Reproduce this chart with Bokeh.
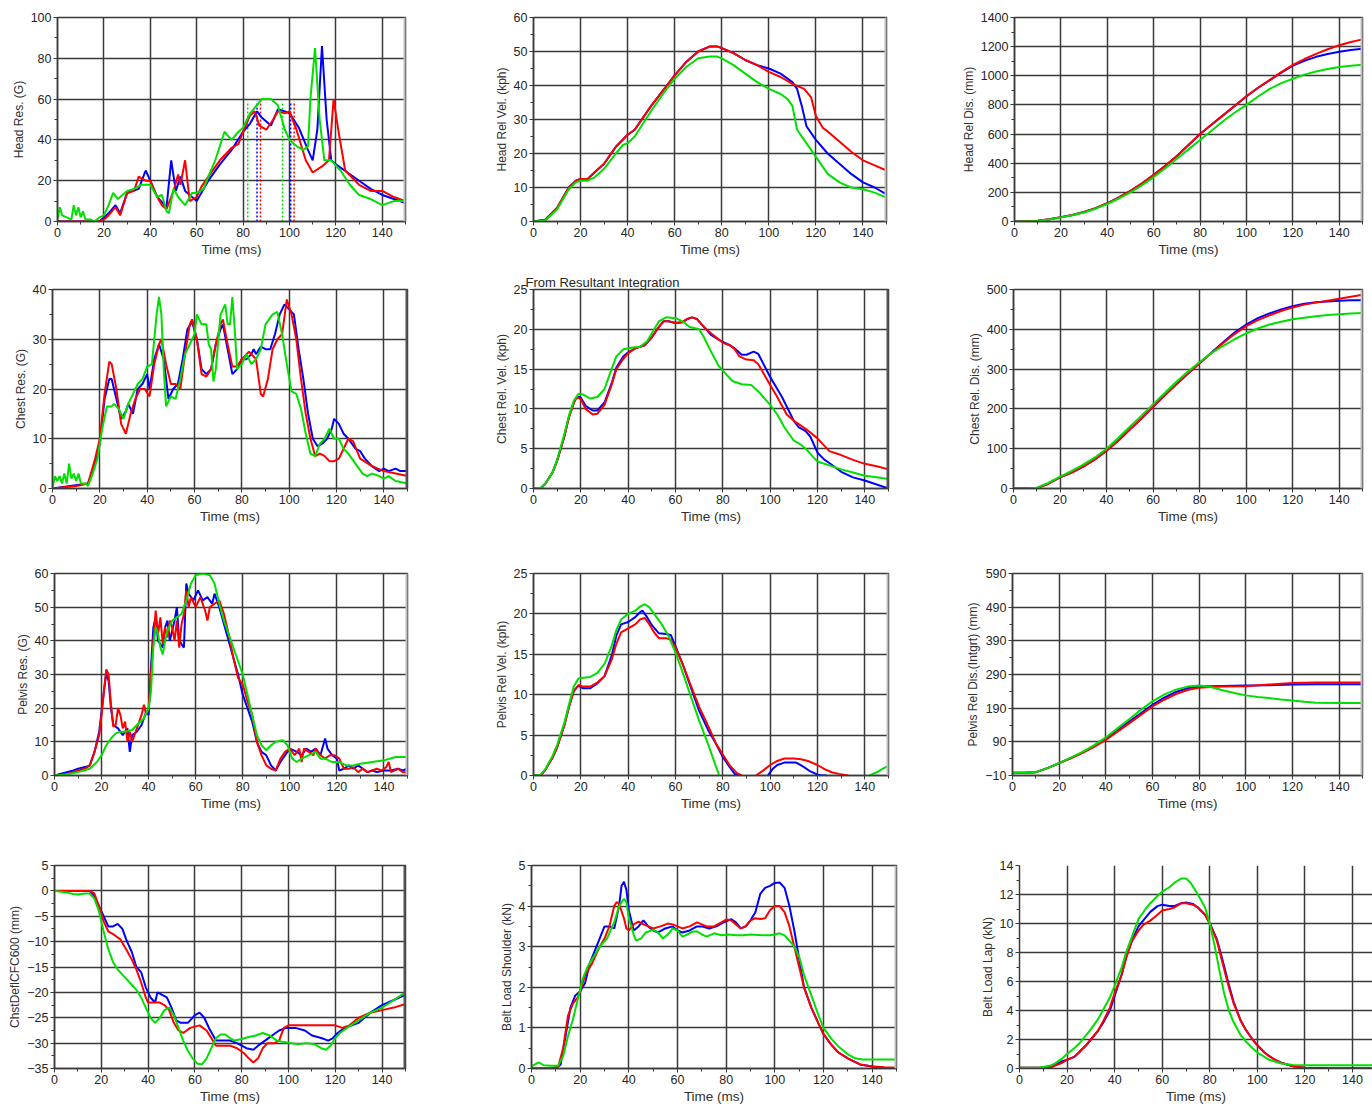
from bokeh.plotting import figure
from bokeh.layouts import row, column
from bokeh.models import FixedTicker, Span, Range1d, Title
from bokeh.embed import file_html
from bokeh.resources import INLINE

NAN = float("nan")

# ---------------- ticks ----------------
TIME_TICKS = [0, 20, 40, 60, 80, 100, 120, 140]
TIME_MINOR = [10, 30, 50, 70, 90, 110, 130, 150]
X_LABEL = "Time (ms)"

# ---------------- data: (time ms, value) samples ----------------
# Head resultant acceleration (G)
head_res_blue = [(0,0),(18,0),(20,2),(22,4),(25,8),(27,4),(30,14),(35,16),(38,25),(40,20),(43,12),(47,7),(49,30),(51,15),(53,22),(55,15),(58,12),(60,10),(65,20),(70,28),(75,35),(80,44),(83,48),(86,54),(88,51),(92,47),(95,55),(98,54),(100,53),(104,46),(108,35),(110,30),(112,45),(114,86),(116,50),(118,30),(120,28),(125,24),(130,20),(135,16),(140,13),(145,11),(150,9)]
head_res_red = [(0,0),(18,0),(20,1),(22,3),(25,7),(27,3),(30,14),(33,15),(35,22),(38,20),(40,20),(43,12),(45,8),(47,6),(50,15),(52,23),(53,18),(55,30),(56,20),(57,10),(60,12),(62,17),(65,22),(70,30),(75,36),(78,38),(80,44),(83,52),(85,54),(87,47),(90,45),(93,50),(95,54),(98,53),(100,54),(103,45),(107,30),(110,24),(114,27),(117,30),(119,60),(121,45),(124,25),(130,18),(135,15),(140,15),(145,12),(150,10)]
head_res_green = [(0,1),(1,7),(2,3),(4,2),(6,1),(7,8),(8,3),(9,7),(10,2),(11,5),(12,1),(14,1),(16,0),(18,2),(20,3),(22,8),(24,14),(26,11),(28,13),(30,15),(33,16),(36,18),(40,18),(43,12),(45,13),(47,5),(48,4),(50,16),(52,12),(55,8),(58,14),(60,14),(63,16),(65,22),(68,30),(70,37),(72,44),(75,40),(78,44),(80,46),(83,53),(86,57),(88,60),(92,60),(95,57),(98,45),(100,40),(103,37),(106,35),(108,37),(109,60),(111,85),(113,50),(115,30),(118,30),(122,25),(126,18),(130,13),(135,11),(140,8),(145,10),(150,10)]
# HIC window start / end (ms) and marker height (G)
hic_start = {"blue": 86, "red": 87.5, "green": 82}
hic_end = {"blue": 100.5, "red": 102, "green": 97}
hic_marker_top = 59

# Head relative velocity (kph)
head_vel_blue = [(0,0),(5,0.5),(10,4),(15,10),(18,12),(20,12.5),(23,12.5),(26,14.5),(30,17),(35,22),(40,25.5),(43,27),(50,34),(55,38.5),(60,43),(65,47),(70,50),(75,51.5),(78,51.5),(80,51),(85,49.5),(90,47.5),(95,46),(100,45),(105,43.5),(110,41),(112,39),(114,34),(116,28),(120,24),(125,20),(130,17),(135,14),(140,11.5),(145,10),(150,8)]
head_vel_red = [(0,0),(5,0.5),(10,4),(15,10),(18,12),(20,12.5),(23,12.5),(26,14.5),(30,17),(35,22),(40,25.5),(43,27),(50,34),(55,38.5),(60,43),(65,47),(70,50),(75,51.5),(78,51.5),(80,51),(85,49.5),(90,47.5),(95,46),(100,44),(105,42.5),(110,40.5),(115,39),(118,36.5),(120,31),(123,27.5),(125,26.5),(130,23.5),(135,20.5),(140,18),(145,16.5),(150,15)]
head_vel_green = [(0,0),(5,0.3),(10,3.5),(15,9.5),(18,11.5),(20,12),(23,12),(26,13),(30,15.5),(35,20),(38,22.5),(40,23),(43,25),(50,32.5),(55,37.5),(60,42),(65,45.5),(70,48),(75,48.5),(78,48.5),(80,48),(85,46),(90,43.5),(95,41),(100,39),(105,37.5),(108,36),(110,34),(112,27),(115,24),(120,19),(125,14),(130,11.5),(135,10),(140,9.5),(145,8.5),(150,7)]

# Head relative displacement (mm)
head_dis_blue = [(0,0),(5,1),(10,5),(15,15),(20,30),(25,45),(30,65),(35,92),(40,125),(45,165),(50,210),(55,262),(60,320),(65,383),(70,450),(75,525),(80,600),(85,665),(90,730),(95,795),(100,860),(105,918),(110,970),(115,1022),(120,1070),(125,1103),(130,1130),(135,1150),(140,1165),(145,1177),(150,1185)]
head_dis_red = [(0,0),(5,1),(10,5),(15,15),(20,30),(25,45),(30,65),(35,92),(40,125),(45,165),(50,210),(55,262),(60,320),(65,383),(70,450),(75,525),(80,600),(85,665),(90,730),(95,795),(100,860),(105,918),(110,970),(115,1025),(120,1075),(125,1115),(130,1150),(135,1182),(140,1210),(145,1232),(150,1250)]
head_dis_green = [(0,0),(5,0.5),(10,3),(15,13),(20,28),(25,43),(30,62),(35,88),(40,120),(45,158),(50,200),(55,250),(60,305),(65,365),(70,430),(75,495),(80,560),(85,625),(90,690),(95,748),(100,800),(105,858),(110,910),(115,950),(120,980),(125,1008),(130,1030),(135,1047),(140,1060),(145,1069),(150,1075)]

# Chest resultant acceleration (G)
chest_res_blue = [(0,0),(15,1),(18,5),(20,9),(22,18),(24,22),(25,22),(27,18),(29,14),(31,15.5),(32,17),(34,15),(36,20),(38,21),(40,23),(41,20),(43,26),(45,29),(47,26),(49,18),(51,20),(53,21),(55,26),(57,32),(59,33.5),(61,30),(63,24),(65,23),(67,24),(69,29),(71,32),(72,33),(74,28),(76,23),(78,24),(80,26),(82,26),(84,27),(85,28),(86,27),(88,28.5),(90,28),(92,28),(94,31),(96,35),(98,37),(100,36),(102,35),(104,28),(106,22),(108,15),(110,10),(112,8.5),(114,9),(116,10),(118,12),(119,14),(121,13),(123,11),(125,10),(128,8),(130,7.5),(132,6),(135,4.5),(138,3.5),(140,4),(142,3.5),(145,4),(147,3.5),(150,3.5)]
chest_res_red = [(0,0),(10,0.5),(15,1),(18,6),(20,10),(22,19),(24,25.5),(25,25),(27,20),(29,13),(31,11),(33,15),(35,18),(37,20),(39,20),(41,18.5),(43,25),(45,29),(46,30),(48,25),(50,21),(52,21),(54,20),(56,27),(58,33),(59,34),(61,30),(63,23),(65,22.5),(67,24),(69,29),(71,33),(72,34),(74,29),(76,24.5),(78,24.5),(80,26),(83,27.5),(86,26),(88,19),(89,18.5),(91,22),(93,28),(95,30),(97,31),(99,38),(101,35),(103,30),(105,22),(107,15),(109,10),(111,6.5),(113,7),(115,6.5),(117,5.5),(119,5.5),(121,6),(123,8),(125,10),(127,9.5),(130,6),(135,4.5),(140,3.5),(145,3),(150,2.5)]
chest_res_green = [(0,0),(1,2.5),(2,1.5),(3,2.5),(4,1),(5,3),(6,1),(7,5),(8,2),(9,3),(10,1.5),(11,3),(12,1),(14,1),(15,0.5),(17,3),(19,6),(21,12),(23,16.5),(25,16.5),(26,17),(28,16),(30,14),(32,17),(34,19),(36,21),(38,22),(40,24.5),(42,25),(44,35),(45,38.5),(46,35),(47,24),(48,16.5),(50,18.5),(52,18),(54,22),(56,27),(58,29),(60,31),(61,35),(63,33),(65,33),(66,29),(67,28),(68,21.5),(69,24),(71,35),(73,37),(74,33),(75,33),(76,38.5),(77,32),(78,24),(80,25),(82,27),(84,25),(86,26),(88,28),(90,33),(93,35),(95,35.5),(97,31),(99,25),(101,19.5),(103,19),(105,16),(107,11),(109,7),(111,6.5),(113,9),(115,10),(117,12),(119,10),(121,10),(123,8),(125,7),(128,5),(131,3),(133,2.5),(135,3),(138,2.5),(140,2),(142,2.5),(145,1.5),(150,1)]

# Chest relative velocity (kph)
chest_vel_blue = [(0,0),(3,0),(5,0.6),(8,2),(10,3.5),(13,6.5),(15,9),(17,10.8),(18,11.4),(19,11.5),(20,11.4),(22,10.4),(25,9.8),(27,9.8),(30,10.8),(33,13.2),(35,15.2),(38,16.6),(40,17.1),(43,17.6),(47,18),(50,19),(53,20.3),(55,21),(57,21),(60,20.8),(63,20.9),(65,21.3),(67,21.5),(69,21.3),(72,20.3),(75,19.3),(80,18.4),(83,18),(85,17.6),(88,16.8),(90,16.8),(93,17.2),(95,16.9),(100,14),(105,11.5),(110,8.5),(112,7.7),(115,7.2),(117,6.5),(120,4.5),(123,3.6),(125,3.2),(130,2.1),(135,1.4),(140,1),(145,0.5),(150,0)]
chest_vel_red = [(0,0),(3,0),(5,0.6),(8,2),(10,3.5),(13,6.5),(15,9),(17,10.7),(18,11.3),(19,11.4),(20,11.2),(22,10),(25,9.3),(27,9.4),(30,10.5),(33,13),(35,15),(38,16.3),(40,17),(43,17.6),(47,18),(50,19),(53,20.3),(55,21),(57,21),(60,20.8),(63,20.9),(65,21.3),(67,21.5),(69,21.3),(72,20.3),(75,19.5),(80,18.3),(83,18),(85,17.5),(87,16.6),(90,16.2),(93,16.1),(95,15.6),(100,13),(103,11.5),(107,9.3),(110,8.5),(115,7.5),(120,6.3),(125,4.7),(130,4.2),(135,3.6),(140,3.1),(145,2.8),(150,2.4)]
chest_vel_green = [(0,0),(3,0.1),(5,0.6),(8,2),(10,3.6),(13,6.8),(15,9.2),(17,11),(19,11.9),(21,11.8),(24,11.3),(27,11.5),(30,12.5),(33,15),(35,16.6),(38,17.5),(42,17.7),(45,17.8),(48,18.5),(50,19.5),(53,21),(56,21.5),(60,21.4),(63,21),(66,20.3),(70,20),(72,19),(75,17.2),(78,15.5),(80,14.8),(84,13.5),(88,13.1),(92,13),(95,12.2),(100,10.5),(103,9.3),(106,7.7),(110,6),(113,5.5),(115,5),(118,4),(120,3.4),(125,2.9),(130,2.4),(135,2),(140,1.6),(145,1.4),(150,1.2)]

# Chest relative displacement (mm)
chest_dis_blue = [(0,0),(5,0),(10,1),(15,12),(20,28),(25,40),(30,55),(35,73),(40,95),(45,120),(50,148),(55,176),(60,205),(65,234),(70,262),(75,289),(80,315),(85,341),(90,367),(95,392),(100,412),(105,428),(110,440),(115,450),(120,458),(125,464),(130,468),(135,470),(140,472),(145,473),(150,473)]
chest_dis_red = [(0,0),(5,0),(10,1),(15,12),(20,28),(25,40),(30,55),(35,73),(40,95),(45,120),(50,148),(55,176),(60,205),(65,234),(70,262),(75,289),(80,315),(85,340),(90,365),(95,388),(100,408),(105,423),(110,435),(115,446),(120,455),(125,462),(130,467),(135,472),(140,477),(145,482),(150,487)]
chest_dis_green = [(0,0),(5,0),(10,2),(15,14),(20,30),(25,44),(30,60),(35,78),(40,100),(45,127),(50,155),(55,183),(60,212),(65,240),(70,268),(75,294),(80,318),(85,340),(90,358),(95,375),(100,390),(105,402),(110,412),(115,419),(120,425),(125,429),(130,433),(135,436),(140,438),(145,440),(150,441)]

# Pelvis resultant acceleration (G)
pelvis_res_blue = [(0,0),(8,1.5),(10,2),(13,2.5),(15,3),(17,7),(19,13),(21,25),(22,30.5),(23,28),(24,20),(25,15),(27,14),(29,12),(31,14),(32,7),(33,12),(35,13),(37,15),(39,19),(40,18),(41,32),(42,44),(43,47),(44,40),(46,38),(47,44),(48,46),(49,40),(51,46),(52,50),(53,40),(55,38),(56,57),(57,54),(59,52),(61,55),(63,52),(65,53),(67,51),(68,54),(70,50),(72,45),(74,40),(76,35),(78,30),(80,24),(82,20),(84,16),(86,10),(88,7),(90,6),(92,3),(94,1.5),(96,4),(98,6),(100,8),(103,7),(105,6),(107,8),(109,7),(111,8),(113,6),(115,11),(116,8),(118,6),(120,5),(121,1.5),(123,2),(125,3),(127,2),(129,3),(131,2),(133,1),(135,1.5),(137,1),(140,1.5),(143,1.5),(146,2),(148,1.5),(150,2)]
pelvis_res_red = [(0,0),(5,0.3),(8,1),(10,1.5),(13,2),(15,3),(17,7),(19,12),(20,18),(21,25),(22,31.5),(23,30),(24,21),(25,14.5),(26,15),(27,20),(28,18),(29,14),(30,16),(31,10),(32,13),(33,10),(34,12),(35,14),(37,18),(38,21),(39,18),(40,20),(41,30),(42,40),(43,49),(44,42),(45,47),(46,39),(47,44),(48,41),(49,46),(50,44),(51,40),(52,46),(53,38),(54,45),(55,48),(56,55),(57,50),(58,53),(60,50),(62,53),(64,49),(65,46),(66,50),(68,51),(70,52),(72,48),(74,42),(76,35),(78,29),(80,27),(82,22),(84,18),(86,10),(88,6),(90,3),(92,2),(94,1.5),(96,5),(98,7),(100,8),(102,6),(104,8),(105,4),(106,8),(108,7),(110,6),(111,8),(113,6),(115,5),(117,6),(119,6),(121,5),(123,2),(125,2),(127,2.5),(129,1),(131,2),(133,1),(135,1.5),(137,2),(139,1.5),(141,2.5),(142,4),(143,1),(146,2),(148,1),(150,1)]
pelvis_res_green = [(0,0),(5,0.3),(10,1),(15,2),(18,4),(20,6),(22,9),(24,11),(26,12.5),(28,13),(30,13),(33,13.5),(35,15),(38,17),(40,20),(41,25),(42,38),(43,44),(44,42),(45,38),(46,36),(47,40),(48,43),(50,46),(52,47),(54,48),(56,52),(58,57),(60,59.5),(63,60),(66,59.5),(68,57),(70,51),(72,46),(74,42),(76,38),(78,34),(80,30),(82,24),(84,18),(86,12),(88,9),(90,7.5),(92,9),(94,10),(97,10.5),(99,9),(101,5),(103,4),(105,5),(108,6),(111,7),(113,5),(115,5),(118,4),(121,4),(124,3),(127,3),(130,3.5),(135,4),(140,4.5),(145,5.5),(150,5.5)]

# Pelvis relative velocity (kph); gaps where the trace leaves the plotted range
pelvis_vel_blue = [(0,0),(3,0),(5,0.7),(8,2.2),(10,3.5),(13,6.2),(15,8.5),(17,10.5),(19,11.1),(21,10.8),(24,10.8),(27,11.4),(30,12.3),(33,14.8),(35,17.3),(37,18.7),(40,19),(43,19.6),(45,20.2),(46,20.4),(48,19.6),(50,18.6),(53,17.6),(56,17.5),(58,17.4),(60,16),(63,13.8),(66,11.3),(70,8),(74,5.5),(77,4),(80,2.3),(83,1),(85,0.2),(87,0),(93,NAN),(99,0),(101,0.8),(103,1.3),(106,1.6),(111,1.6),(114,1.1),(117,0.5),(120,0.1),(122,0),(124,0)]
pelvis_vel_red = [(0,0),(3,0),(5,0.7),(8,2.2),(10,3.5),(13,6.2),(15,8.5),(17,10.4),(19,11.2),(21,11),(24,11),(27,11.5),(30,12.3),(33,14.3),(35,16.3),(37,17.7),(40,18.2),(43,18.7),(45,19.3),(47,19.5),(49,18.7),(51,17.7),(53,17),(56,17),(58,16.8),(60,15.8),(63,13.8),(66,11.5),(70,8.5),(74,6),(77,4),(80,2.6),(83,1.2),(86,0.3),(88,0),(91,NAN),(94,0),(97,0.6),(100,1.3),(103,1.8),(106,2.1),(110,2.1),(113,2),(116,1.8),(120,1.3),(123,0.8),(126,0.4),(129,0.2),(133,0)]
pelvis_vel_green = [(0,0),(3,0.1),(5,0.8),(8,2.4),(10,3.8),(13,6.5),(15,8.8),(17,11),(19,12),(21,12.1),(24,12.2),(27,12.7),(30,13.8),(33,16),(35,18),(37,19.3),(40,20),(43,20.4),(45,20.9),(47,21.2),(49,20.8),(51,20),(54,18.8),(57,17.3),(60,15.2),(63,12.8),(66,10.2),(70,6.8),(74,3.7),(77,1.2),(78.5,0),(110,NAN),(142,0),(145,0.4),(148,0.9),(150,1.2)]

# Pelvis relative displacement, integrated (mm)
pelvis_dis_blue = [(0,-2),(5,-1.5),(10,0),(15,12),(20,27),(25,42),(30,58),(35,77),(40,100),(45,125),(50,150),(55,175),(60,200),(65,221),(70,238),(75,249),(80,254),(85,255),(90,256),(100,257),(110,258),(120,260),(130,261),(150,261)]
pelvis_dis_red = [(0,-2),(5,-1.5),(10,0),(15,12),(20,27),(25,41),(30,57),(35,75),(40,96),(45,120),(50,145),(55,170),(60,195),(65,215),(70,232),(75,244),(80,251),(85,253),(90,254),(100,255),(110,260),(120,265),(130,266),(150,266)]
pelvis_dis_green = [(0,-2),(5,-1.5),(10,0),(15,12),(20,27),(25,43),(30,60),(35,80),(40,103),(45,130),(50,157),(55,185),(60,210),(65,230),(70,245),(75,254),(80,257),(85,253),(90,243),(95,235),(100,228),(105,223),(110,220),(115,216),(120,213),(125,209),(130,206),(140,205),(150,205)]

# Chest deflection CFC600 (mm)
chest_defl_blue = [(0,0),(15,0),(17,-1),(19,-3),(21,-5),(23,-7),(25,-7),(27,-6.5),(29,-7.5),(31,-10),(33,-12),(35,-15),(37,-16),(39,-19),(41,-21),(43,-22),(44,-20),(46,-20.5),(48,-21),(50,-23),(52,-25.5),(54,-26),(57,-26),(60,-24.5),(62,-24),(64,-25),(66,-27),(69,-29.5),(72,-29.5),(75,-29.5),(78,-30),(82,-31),(85,-31.3),(87,-30.5),(90,-29.5),(93,-28.5),(96,-27.5),(99,-27),(103,-27),(107,-27.5),(110,-28.5),(114,-29),(117,-29.5),(119,-29),(121,-28),(124,-27),(127,-26.5),(130,-26),(135,-24),(140,-22.5),(145,-21.5),(150,-20.5)]
chest_defl_red = [(0,0),(10,0),(15,0),(17,-0.5),(19,-3),(21,-6),(23,-8),(25,-8.5),(28,-9.5),(30,-11),(33,-13.5),(35,-15.5),(37,-18),(39,-21),(40,-22),(43,-22),(45,-22),(47,-22.5),(49,-23.5),(51,-26),(53,-27.5),(55,-28),(58,-27),(62,-26.5),(65,-27.5),(67,-29),(69,-30.5),(72,-30.5),(75,-30.5),(78,-31),(81,-32),(83,-33),(85,-33.8),(87,-33),(89,-31),(91,-30),(94,-30),(96,-29.5),(98,-27),(100,-26.5),(105,-26.5),(110,-26.5),(115,-26.5),(120,-26.5),(123,-27),(126,-26.5),(130,-25),(135,-24),(140,-23.5),(145,-23),(150,-22.3)]
chest_defl_green = [(0,0),(5,-0.3),(8,-0.6),(10,-0.7),(13,-0.5),(15,-0.5),(17,-1.5),(19,-4),(21,-8),(23,-11.5),(25,-14),(27,-15.5),(29,-16.5),(31,-17.5),(33,-18.5),(35,-19.5),(37,-21),(39,-23),(41,-25),(43,-26),(45,-25),(47,-23.5),(49,-23),(51,-24.5),(53,-27),(55,-29.5),(57,-31.5),(59,-33),(61,-34),(63,-34.2),(65,-33),(67,-31),(69,-29),(71,-28.3),(73,-28.3),(75,-29),(77,-29.5),(80,-29.2),(83,-28.8),(86,-28.5),(89,-28),(92,-28.5),(95,-29.5),(98,-29.8),(101,-30),(104,-30.2),(108,-30),(111,-30.2),(114,-31),(116,-31.3),(118,-30.5),(120,-29),(122,-28),(125,-27),(130,-25.5),(135,-24),(140,-23),(145,-21.5),(150,-20)]

# Shoulder belt load (kN)
belt_sh_blue = [(0,0),(10,0),(12,0.1),(14,0.8),(16,1.5),(18,1.8),(20,1.9),(22,2.1),(24,2.6),(26,2.9),(28,3.2),(30,3.5),(32,3.5),(34,3.45),(36,4.0),(37,4.5),(38,4.6),(39,4.4),(40,3.9),(42,3.4),(44,3.5),(46,3.65),(48,3.5),(50,3.4),(52,3.35),(55,3.45),(58,3.5),(60,3.4),(62,3.35),(65,3.4),(68,3.5),(70,3.5),(73,3.45),(76,3.5),(79,3.6),(82,3.68),(84,3.6),(86,3.45),(88,3.5),(90,3.65),(92,3.85),(94,4.3),(96,4.45),(98,4.5),(100,4.57),(102,4.58),(104,4.45),(106,4.0),(108,3.4),(110,2.7),(112,2.0),(115,1.5),(118,1.1),(120,0.85),(123,0.6),(126,0.4),(130,0.25),(135,0.1),(140,0.05),(145,0.02),(150,0)]
belt_sh_red = [(0,0),(8,0),(11,0.05),(13,0.5),(15,1.3),(17,1.6),(19,1.75),(20,1.9),(22,2.3),(25,2.6),(28,3),(30,3.2),(32,3.5),(34,4),(35,4.1),(36,4.05),(38,3.7),(39,3.45),(40,3.4),(42,3.55),(44,3.62),(46,3.55),(48,3.5),(50,3.45),(53,3.5),(56,3.57),(58,3.55),(60,3.5),(62,3.45),(65,3.5),(68,3.6),(70,3.55),(72,3.5),(75,3.5),(78,3.6),(80,3.67),(82,3.65),(84,3.55),(86,3.45),(88,3.5),(90,3.65),(92,3.7),(94,3.68),(96,3.7),(98,3.9),(100,4.0),(102,4.0),(104,3.85),(106,3.5),(108,3),(110,2.5),(112,2),(115,1.5),(118,1.1),(120,0.85),(123,0.6),(126,0.4),(130,0.25),(135,0.1),(140,0.05),(145,0.03),(150,0.02)]
belt_sh_green = [(0,0.05),(2,0.12),(3,0.15),(5,0.08),(8,0.07),(11,0.07),(13,0.3),(15,0.8),(17,1.2),(19,1.7),(21,2.2),(23,2.5),(25,2.7),(28,3),(31,3.2),(34,3.6),(36,4),(38,4.18),(39,4.1),(40,3.7),(42,3.3),(43,3.15),(45,3.2),(47,3.35),(50,3.42),(52,3.35),(54,3.2),(56,3.3),(58,3.45),(60,3.4),(62,3.25),(64,3.3),(66,3.37),(68,3.38),(70,3.3),(72,3.25),(75,3.33),(78,3.28),(81,3.3),(84,3.28),(87,3.28),(90,3.3),(95,3.28),(98,3.28),(100,3.3),(102,3.33),(104,3.28),(106,3.15),(108,3.0),(110,2.75),(112,2.3),(115,1.8),(118,1.3),(120,1.0),(123,0.75),(126,0.55),(130,0.35),(133,0.25),(136,0.22),(140,0.22),(145,0.22),(150,0.22)]

# Lap belt load (kN)
belt_lap_blue = [(0,0.05),(10,0.05),(13,0.1),(15,0.25),(18,0.5),(20,0.6),(23,0.8),(25,1.1),(28,1.6),(30,2.0),(33,2.6),(35,3.1),(38,4.0),(40,5.0),(43,6.5),(45,7.8),(48,9.1),(50,9.8),(53,10.4),(55,10.8),(58,11.2),(60,11.3),(63,11.2),(65,11.2),(68,11.4),(70,11.45),(73,11.35),(75,11.1),(78,10.6),(80,10.0),(83,8.9),(85,7.7),(88,5.8),(90,4.6),(93,3.3),(95,2.7),(98,2.0),(100,1.6),(103,1.1),(105,0.85),(108,0.55),(110,0.4),(115,0.15),(120,0.05),(130,0.02),(140,0.02),(148,0.02)]
belt_lap_red = [(0,0.05),(13,0.05),(15,0.2),(18,0.4),(20,0.6),(23,0.8),(25,1.1),(28,1.6),(30,2.0),(33,2.6),(35,3.2),(38,4.2),(40,5.2),(43,6.5),(45,7.7),(47,8.7),(50,9.5),(52,9.9),(55,10.2),(58,10.6),(60,10.9),(63,11.0),(65,11.1),(68,11.4),(70,11.4),(73,11.3),(75,11.1),(78,10.6),(80,10.0),(83,8.8),(85,7.5),(88,5.6),(90,4.5),(93,3.3),(95,2.7),(98,2.0),(100,1.6),(103,1.1),(105,0.85),(108,0.55),(110,0.4),(115,0.15),(120,0.05),(125,0.02),(128,0)]
belt_lap_green = [(0,0.05),(8,0.05),(10,0.1),(13,0.2),(15,0.35),(18,0.7),(20,1.0),(23,1.4),(25,1.7),(28,2.3),(30,2.7),(33,3.4),(35,4.0),(38,4.9),(40,5.7),(43,7.0),(45,8.1),(48,9.4),(50,10.3),(53,11.0),(55,11.4),(58,11.9),(60,12.2),(63,12.5),(65,12.8),(68,13.1),(70,13.1),(72,12.8),(75,12.0),(78,11.1),(80,10.0),(82,8.5),(84,6.8),(86,5.2),(88,4.0),(90,3.2),(93,2.3),(95,1.9),(98,1.4),(100,1.1),(103,0.8),(105,0.6),(108,0.45),(110,0.35),(115,0.25),(120,0.22),(130,0.22),(140,0.22),(150,0.22)]

# y-axis tick values per panel
ticks_head_res = [0, 20, 40, 60, 80, 100]
ticks_head_vel = [0, 10, 20, 30, 40, 50, 60]
ticks_head_dis = [0, 200, 400, 600, 800, 1000, 1200, 1400]
ticks_chest_res = [0, 10, 20, 30, 40]
ticks_chest_vel = [0, 5, 10, 15, 20, 25]
ticks_chest_dis = [0, 100, 200, 300, 400, 500]
ticks_pelvis_res = [0, 10, 20, 30, 40, 50, 60]
ticks_pelvis_vel = [0, 5, 10, 15, 20, 25]
ticks_pelvis_dis = [-10, 90, 190, 290, 390, 490, 590]
ticks_chest_defl = [-35, -30, -25, -20, -15, -10, -5, 0, 5]
ticks_belt_sh = [0, 1, 2, 3, 4, 5]
ticks_belt_lap = [0, 2, 4, 6, 8, 10, 12, 14]

# ---------------- styling ----------------
COLORS = {"blue": "#0000ff", "red": "#ff0000", "green": "#00e000"}
DARK = "#3a3a3a"
FONT = "Liberation Sans"


def unzip(pairs):
    return [a for a, _ in pairs], [b for _, b in pairs]


def panel(series, ylabel, yticks, w, h, borders, x_end=150, bar=None, hic=False, note=None):
    L, R, T, B = borders
    p = figure(width=w, height=h, x_range=Range1d(0, x_end),
               y_range=Range1d(yticks[0], yticks[-1]),
               output_backend="svg", toolbar_location=None,
               min_border_left=L, min_border_right=R, min_border_top=T, min_border_bottom=B,
               background_fill_color="white", border_fill_color="white",
               outline_line_color=DARK, outline_line_width=1.5)
    if note:
        p.add_layout(Title(text=note, align="left", offset=-8, standoff=0,
                           text_font=FONT, text_font_size="13px",
                           text_font_style="normal", text_color="#262626"), "above")
    minor_y = [(a + b) / 2 for a, b in zip(yticks[:-1], yticks[1:])]
    p.xaxis.ticker = FixedTicker(ticks=TIME_TICKS, minor_ticks=TIME_MINOR)
    p.yaxis.ticker = FixedTicker(ticks=yticks, minor_ticks=minor_y)
    p.xaxis.axis_label = X_LABEL
    p.yaxis.axis_label = ylabel
    for ax in (p.xaxis[0], p.yaxis[0]):
        ax.axis_line_color = DARK
        ax.axis_line_width = 1.5
        ax.major_tick_line_color = DARK
        ax.major_tick_out = 4
        ax.major_tick_in = 0
        ax.minor_tick_line_color = DARK
        ax.minor_tick_out = 3
        ax.minor_tick_in = 0
        ax.major_label_text_font = FONT
        ax.major_label_text_font_size = "12.5px"
        ax.major_label_text_color = "#262626"
        ax.major_label_standoff = 2
        ax.axis_label_text_font = FONT
        ax.axis_label_text_font_style = "normal"
        ax.axis_label_text_color = "#303030"
        ax.axis_label_standoff = 2
    p.xaxis.axis_label_text_font_size = "13.5px"
    p.yaxis.axis_label_text_font_size = "12px"
    for g in (p.xgrid[0], p.ygrid[0]):
        g.grid_line_color = DARK
        g.grid_line_width = 1.5
    if bar:
        p.add_layout(Span(location=x_end, dimension="height", line_color=bar, line_width=4))
    if hic:
        for name in ("green", "blue", "red"):
            xs = [hic_start[name], hic_end[name]]
            p.segment(x0=xs, y0=[0, 0], x1=xs, y1=[hic_marker_top] * 2,
                      line_color=COLORS[name], line_dash="2 2", line_width=1.5)
    for name in ("blue", "red", "green"):
        t, v = unzip(series[name])
        p.line(t, v, line_color=COLORS[name], line_width=2)
    return p


GRAY = "#bdbdbd"
DBAR = "#555555"
p1 = panel({"blue": head_res_blue, "red": head_res_red, "green": head_res_green},
           "Head Res. (G)", ticks_head_res, 460, 270, (57, 55, 17, 49), bar=GRAY, hic=True)
p2 = panel({"blue": head_vel_blue, "red": head_vel_red, "green": head_vel_green},
           "Head Rel Vel. (kph)", ticks_head_vel, 460, 270, (73, 34, 17, 47), bar=GRAY)
p3 = panel({"blue": head_dis_blue, "red": head_dis_red, "green": head_dis_green},
           "Head Rel Dis. (mm)", ticks_head_dis, 452, 270, (94, 10, 16, 49), bar=GRAY)
p4 = panel({"blue": chest_res_blue, "red": chest_res_red, "green": chest_res_green},
           "Chest Res. (G)", ticks_chest_res, 460, 285, (52, 53, 18, 66), bar=DBAR)
p5 = panel({"blue": chest_vel_blue, "red": chest_vel_red, "green": chest_vel_green},
           "Chest Rel. Vel. (kph)", ticks_chest_vel, 460, 285, (73, 32, 19, 66), bar=DBAR,
           note="From Resultant Integration")
p6 = panel({"blue": chest_dis_blue, "red": chest_dis_red, "green": chest_dis_green},
           "Chest Rel. Dis. (mm)", ticks_chest_dis, 452, 285, (93, 10, 15, 67), bar=GRAY)
p7 = panel({"blue": pelvis_res_blue, "red": pelvis_res_red, "green": pelvis_res_green},
           "Pelvis Res. (G)", ticks_pelvis_res, 460, 285, (54, 53, 18, 64), bar=GRAY)
p8 = panel({"blue": pelvis_vel_blue, "red": pelvis_vel_red, "green": pelvis_vel_green},
           "Pelvis Rel Vel. (kph)", ticks_pelvis_vel, 460, 285, (73, 32, 16, 63), bar=GRAY)
p9 = panel({"blue": pelvis_dis_blue, "red": pelvis_dis_red, "green": pelvis_dis_green},
           "Pelvis Rel Dis.(Intgrt) (mm)", ticks_pelvis_dis, 452, 285, (92, 10, 17, 65), bar=GRAY)
p10 = panel({"blue": chest_defl_blue, "red": chest_defl_red, "green": chest_defl_green},
            "ChstDeflCFC600 (mm)", ticks_chest_defl, 460, 266, (54, 55, 21, 38), bar=DBAR)
p11 = panel({"blue": belt_sh_blue, "red": belt_sh_red, "green": belt_sh_green},
            "Belt Load Shoulder (kN)", ticks_belt_sh, 460, 266, (71, 24, 24, 38), bar=GRAY)
p12 = panel({"blue": belt_lap_blue, "red": belt_lap_red, "green": belt_lap_green},
            "Belt Load Lap (kN)", ticks_belt_lap, 452, 266, (99, 0, 25, 38), x_end=148.4)
p12.outline_line_color = None

layout = column(row(p1, p2, p3), row(p4, p5, p6), row(p7, p8, p9), row(p10, p11, p12))

open("out.html", "w").write(file_html(layout, INLINE))
